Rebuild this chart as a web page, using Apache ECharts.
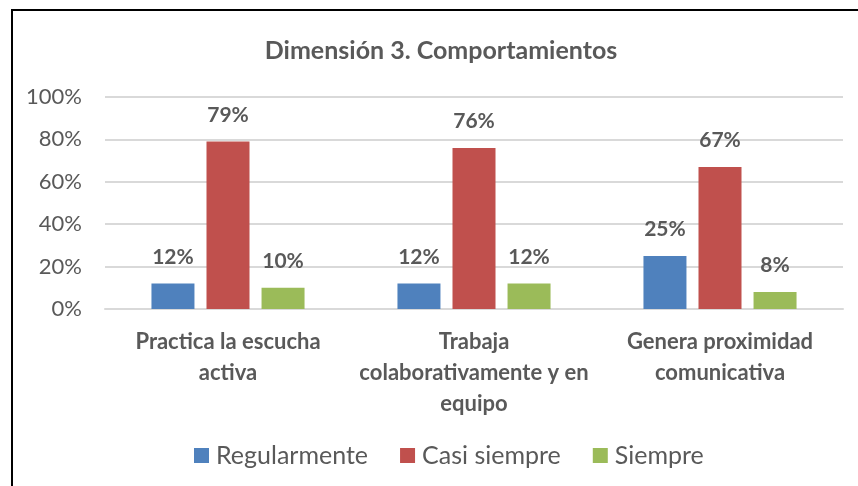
<!DOCTYPE html>
<html>
<head>
<meta charset="utf-8">
<script src="https://cdn.jsdelivr.net/npm/echarts@6/dist/echarts.min.js"></script>
<style>html,body{margin:0;padding:0;background:#fff}#c{width:858px;height:486px}</style>
</head>
<body>
<div id="c"></div>
<script>
const categories = ["Practica la escucha\nactiva", "Trabaja\ncolaborativamente y en\nequipo", "Genera proximidad\ncomunicativa"];
const seriesNames = ["Regularmente", "Casi siempre", "Siempre"];
const regularmente = [12, 12, 25];
const casiSiempre = [79, 76, 67];
const siempre = [10, 12, 8];
const yTicks = [0, 20, 40, 60, 80, 100];
const colors = ["#4f81bd", "#c0504d", "#9bbb59"];
const FONT = "Lato";
const chart = echarts.init(document.getElementById('c'));
const values = [regularmente, casiSiempre, siempre];
chart.setOption({
  animation: false,
  textStyle: {fontFamily: FONT},
  graphic: [{type: 'rect', shape: {x: 12, y: 10, width: 900, height: 600}, style: {fill: 'none', stroke: '#000', lineWidth: 2}}],
  title: {text: 'Dimensión 3. Comportamientos', left: 436, textAlign: 'center', top: 33,
    textStyle: {fontFamily: FONT, fontSize: 25, fontWeight: 'bold', color: '#595959'}},
  legend: {top: 438, left: 189, itemWidth: 15, itemHeight: 15, itemGap: 32, icon: 'rect',
    textStyle: {fontFamily: FONT, fontSize: 25, color: '#595959', padding: [0, 0, 0, 2]}, data: seriesNames},
  grid: {left: 105, right: 15, top: 97, bottom: 177},
  xAxis: {type: 'category', data: categories,
    axisLine: {lineStyle: {color: '#d9d9d9', width: 2}}, axisTick: {show: false},
    axisLabel: {margin: 17, lineHeight: 31, fontFamily: FONT, fontSize: 22, fontWeight: 'bold', color: '#595959', interval: 0}},
  yAxis: {type: 'value', min: yTicks[0], max: yTicks[yTicks.length-1], interval: 20,
    axisLine: {show: false}, axisTick: {show: false},
    splitLine: {lineStyle: {color: '#d9d9d9', width: 2}},
    axisLabel: {margin: 23, fontFamily: FONT, fontSize: 22, color: '#595959', formatter: v => v + '%'}},
  series: seriesNames.map((n, i) => ({
    name: n, type: 'bar', data: values[i], barWidth: 43, barGap: '28%',
    itemStyle: {color: colors[i]},
    label: {show: true, position: 'top', distance: 16, formatter: p => p.value + '%',
      fontFamily: FONT, fontSize: 21, fontWeight: 'bold', color: '#595959'}
  }))
});
</script>
</body>
</html>
